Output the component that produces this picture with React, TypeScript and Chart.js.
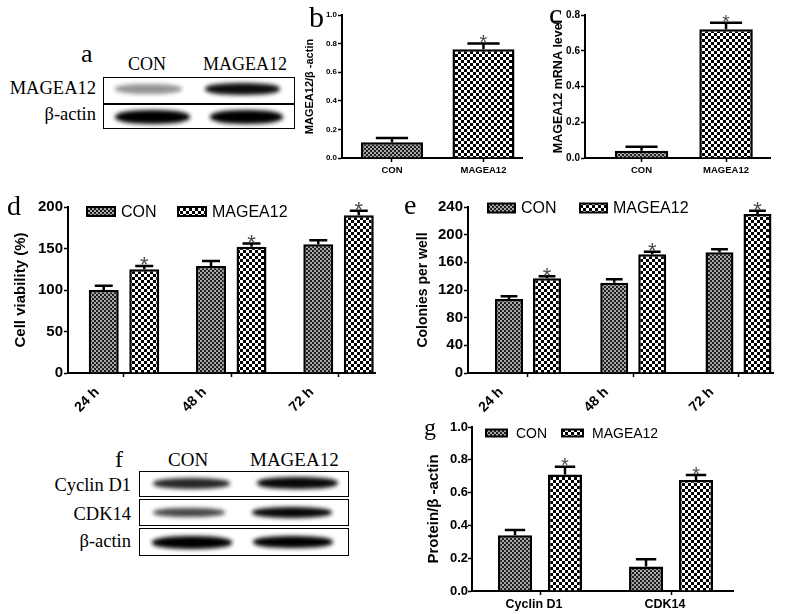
import React, { useEffect, useRef } from 'react';
import { Chart, registerables } from 'chart.js';

Chart.register(...registerables);

const SANS = '"Liberation Sans", Arial, sans-serif';
const SERIF = '"Liberation Serif", "Times New Roman", serif';
Chart.defaults.font.family = SANS;

// ---------- data ----------
const groupNames = ['CON', 'MAGEA12'];

// panel b: MAGEA12/β-actin (western blot quantification)
const bLabels = ['CON', 'MAGEA12'];
const bValues = [0.11, 0.76];
const bErrTop = [0.14, 0.80];
const bStars = [false, true];

// panel c: MAGEA12 mRNA level
const cLabels = ['CON', 'MAGEA12'];
const cValues = [0.04, 0.72];
const cErrTop = [0.063, 0.757];
const cStars = [false, true];

// panel d: cell viability (%)
const dLabels = ['24 h', '48 h', '72 h'];
const dCon = [100, 129, 155];
const dConErr = [105, 135, 160];
const dMag = [125, 152, 190];
const dMagErr = [129, 156, 195.5];
const dStars = [true, true, true];

// panel e: colonies per well
const eLabels = ['24 h', '48 h', '72 h'];
const eCon = [107, 130.6, 174.5];
const eConErr = [111, 135.4, 178.8];
const eMag = [137, 171.6, 230];
const eMagErr = [140, 175.4, 234.7];
const eStars = [true, true, true];

// panel g: protein/β-actin
const gLabels = ['Cyclin D1', 'CDK14'];
const gCon = [0.34, 0.15];
const gConErr = [0.372, 0.193];
const gMag = [0.71, 0.677];
const gMagErr = [0.758, 0.707];
const gStars = [true, true];

// blots: band intensity [CON, MAGEA12]
const blotARows = ['MAGEA12', 'β-actin'];
const blotAIntensity = [[0.42, 0.95], [1, 1]];
const blotFRows = ['Cyclin D1', 'CDK14', 'β-actin'];
const blotFIntensity = [[0.85, 0.97], [0.72, 0.97], [1, 1]];

// ---------- helpers ----------
function makePatterns(ctx: CanvasRenderingContext2D) {
  const a = document.createElement('canvas');
  a.width = 4; a.height = 4;
  const ac = a.getContext('2d')!;
  ac.fillStyle = '#a8a8a8'; ac.fillRect(0, 0, 4, 4);
  ac.fillStyle = '#1e1e1e'; ac.fillRect(0, 0, 2, 2); ac.fillRect(2, 2, 2, 2);
  const b = document.createElement('canvas');
  b.width = 6; b.height = 6;
  const bc = b.getContext('2d')!;
  bc.fillStyle = '#000'; bc.fillRect(0, 0, 6, 6);
  bc.fillStyle = '#fff'; bc.fillRect(0, 0, 3, 3); bc.fillRect(3, 3, 3, 3);
  return [ctx.createPattern(a, 'repeat')!, ctx.createPattern(b, 'repeat')!];
}

type DS = { label: string; values: number[]; err: number[]; stars: boolean[]; pat: number | number[] };
type Spec = {
  box: [number, number, number, number];
  area: [number, number, number, number];
  xRange: [number, number];
  labels: string[];
  datasets: DS[];
  yMax: number; yStep: number; yDec: number;
  tickSize: number; xSize: number; xRot: number; xOffset: number; xPad: number; yPad: number;
  title: string; titleSize: number; titleCenter: number;
  cat: number; barPct: number; cap: number; starSize: number;
  legend?: { pos: [number, number][]; w: number; h: number; gap: number; size: number };
};

function BarPanel({ spec }: { spec: Spec }) {
  const ref = useRef<HTMLCanvasElement>(null);
  useEffect(() => {
    const canvas = ref.current!;
    const ctx = canvas.getContext('2d')!;
    const pats = makePatterns(ctx);
    const [L, T, W, H] = spec.box;
    const [aL, aR, aT, aB] = spec.area;

    const errorBars = {
      id: 'errorBars',
      afterDatasetsDraw(chart: any) {
        const c = chart.ctx;
        const ys = chart.scales.y;
        chart.data.datasets.forEach((ds: any, di: number) => {
          const meta = chart.getDatasetMeta(di);
          meta.data.forEach((bar: any, i: number) => {
            const top = ds.errTop[i];
            const x = bar.x;
            const ye = ys.getPixelForValue(top);
            const capW = bar.width * spec.cap;
            c.save();
            c.strokeStyle = '#000';
            c.lineWidth = 2.5;
            c.beginPath();
            c.moveTo(x, bar.y);
            c.lineTo(x, ye);
            c.moveTo(x - capW / 2, ye);
            c.lineTo(x + capW / 2, ye);
            c.stroke();
            if (ds.stars[i]) {
              c.fillStyle = '#4a4a4a';
              c.font = `${spec.starSize}px ${SANS}`;
              c.textAlign = 'center';
              c.textBaseline = 'alphabetic';
              c.fillText('*', x, ye - 3 + spec.starSize * 0.43);
            }
            c.restore();
          });
        });
      },
    };

    const insideLegend = {
      id: 'insideLegend',
      afterDraw(chart: any) {
        const lg = spec.legend;
        if (!lg) return;
        const c = chart.ctx;
        chart.data.datasets.forEach((ds: any, i: number) => {
          const [x, y] = lg.pos[i];
          c.save();
          c.fillStyle = ds.backgroundColor;
          c.fillRect(x, y - lg.h / 2, lg.w, lg.h);
          c.strokeStyle = '#000';
          c.lineWidth = 2;
          c.strokeRect(x, y - lg.h / 2, lg.w, lg.h);
          c.fillStyle = '#000';
          c.font = `${lg.size}px ${SANS}`;
          c.textAlign = 'left';
          c.textBaseline = 'middle';
          c.fillText(ds.label, x + lg.w + lg.gap, y + 1);
          c.restore();
        });
      },
    };

    const chart = new Chart(canvas, {
      type: 'bar',
      data: {
        datasets: spec.datasets.map((d) => ({
          label: d.label,
          data: d.values.map((v, i) => ({ x: i + 1, y: v })),
          backgroundColor: Array.isArray(d.pat) ? d.pat.map((p) => pats[p]) : pats[d.pat],
          borderColor: '#000',
          borderWidth: 2.5,
          categoryPercentage: spec.cat,
          barPercentage: spec.barPct,
          errTop: d.err,
          stars: d.stars,
        })) as any,
      },
      options: {
        responsive: false,
        animation: false,
        events: [],
        layout: { padding: { top: aT - T, right: L + W - aR, left: 0, bottom: 0 } },
        plugins: { legend: { display: false }, tooltip: { enabled: false } },
        scales: {
          x: {
            type: 'linear',
            min: spec.xRange[0],
            max: spec.xRange[1],
            offset: false,
            afterBuildTicks: (s: any) => {
              s.ticks = spec.labels.map((_, i) => ({ value: i + 1 }));
            },
            afterFit: (s: any) => {
              s.height = T + H - aB;
            },
            grid: { display: true, offset: false, drawOnChartArea: false, drawTicks: true, tickLength: 4, tickWidth: 1.5, tickColor: '#000' },
            border: { display: true, color: '#000', width: 2 },
            ticks: {
              autoSkip: false,
              callback: (_v: any, i: number) => spec.labels[i],
              font: { family: SANS, size: spec.xSize, weight: 'bold' },
              color: '#000',
              minRotation: spec.xRot,
              maxRotation: spec.xRot,
              labelOffset: spec.xOffset,
              padding: spec.xPad,
            },
          },
          y: {
            min: 0,
            max: spec.yMax,
            afterFit: (s: any) => {
              s.width = aL - L;
            },
            grid: { display: true, drawOnChartArea: false, drawTicks: true, tickLength: 4, tickWidth: 1.5, tickColor: '#000' },
            border: { display: true, color: '#000', width: 2 },
            ticks: {
              stepSize: spec.yStep,
              callback: (v: any) => Number(v).toFixed(spec.yDec),
              font: { family: SANS, size: spec.tickSize, weight: 'bold' },
              color: '#000',
              padding: spec.yPad,
            },
            title: {
              display: true,
              text: spec.title,
              color: '#000',
              font: { family: SANS, size: spec.titleSize, weight: 'bold' },
              padding: { top: spec.titleCenter - L - spec.titleSize * 0.6, bottom: 0 },
            },
          },
        },
      } as any,
      plugins: [errorBars, insideLegend],
    });
    return () => chart.destroy();
  }, []);
  const [L, T, W, H] = spec.box;
  return (
    <canvas
      ref={ref}
      width={W}
      height={H}
      style={{ position: 'absolute', left: L, top: T, width: W, height: H }}
    />
  );
}

function Txt({ x, y, s, children, font = SERIF, right = false, weight = 'normal' }: any) {
  const style: any = {
    position: 'absolute',
    top: y - 0.84 * s,
    fontFamily: font,
    fontSize: s,
    lineHeight: `${s}px`,
    whiteSpace: 'nowrap',
    fontWeight: weight,
    color: '#000',
  };
  if (right) style.right = 800 - x;
  else style.left = x;
  return <div style={style}>{children}</div>;
}

function Band({ x1, x2, cy, h, a }: any) {
  return (
    <div
      style={{
        position: 'absolute',
        left: x1,
        top: cy - h / 2,
        width: x2 - x1,
        height: h,
        borderRadius: '45%',
        background: `rgba(0,0,0,${a})`,
        filter: 'blur(2.2px)',
      }}
    />
  );
}

function Box({ x, y, w, h }: any) {
  return (
    <div
      style={{
        position: 'absolute',
        left: x,
        top: y,
        width: w,
        height: h,
        border: '1.5px solid #000',
        boxSizing: 'border-box',
      }}
    />
  );
}

const specB: Spec = {
  box: [296, 0, 234, 190],
  area: [342, 522, 15, 158],
  xRange: [0.454, 2.421],
  labels: bLabels,
  datasets: [{ label: 'b', values: bValues, err: bErrTop, stars: bStars, pat: [0, 1] }],
  yMax: 1, yStep: 0.2, yDec: 1,
  tickSize: 8, xSize: 9.5, xRot: 0, xOffset: 0, xPad: 3, yPad: 1,
  title: 'MAGEA12/β -actin', titleSize: 11, titleCenter: 310,
  cat: 0.678, barPct: 1, cap: 0.52, starSize: 20,
};

const specC: Spec = {
  box: [540, 0, 260, 190],
  area: [585, 770, 15, 158],
  xRange: [0.331, 2.52],
  labels: cLabels,
  datasets: [{ label: 'c', values: cValues, err: cErrTop, stars: cStars, pat: [0, 1] }],
  yMax: 0.8, yStep: 0.2, yDec: 1,
  tickSize: 10, xSize: 9.5, xRot: 0, xOffset: 0, xPad: 3, yPad: 1,
  title: 'MAGEA12 mRNA level', titleSize: 12.5, titleCenter: 559,
  cat: 0.633, barPct: 1, cap: 0.6, starSize: 19,
};

const specD: Spec = {
  box: [0, 190, 400, 230],
  area: [68, 375, 207, 373],
  xRange: [0.478, 3.34],
  labels: dLabels,
  datasets: [
    { label: groupNames[0], values: dCon, err: dConErr, stars: [false, false, false], pat: 0 },
    { label: groupNames[1], values: dMag, err: dMagErr, stars: dStars, pat: 1 },
  ],
  yMax: 200, yStep: 50, yDec: 0,
  tickSize: 15, xSize: 14, xRot: 45, xOffset: -27, xPad: 7, yPad: 1,
  title: 'Cell viability (%)', titleSize: 15, titleCenter: 20.5,
  cat: 0.755, barPct: 0.74, cap: 0.6, starSize: 22,
  legend: { pos: [[87, 21.5], [178, 21.5]], w: 28, h: 9, gap: 6, size: 16 },
};

const specE: Spec = {
  box: [400, 190, 400, 230],
  area: [468, 773, 207, 373],
  xRange: [0.43, 3.328],
  labels: eLabels,
  datasets: [
    { label: groupNames[0], values: eCon, err: eConErr, stars: [false, false, false], pat: 0 },
    { label: groupNames[1], values: eMag, err: eMagErr, stars: eStars, pat: 1 },
  ],
  yMax: 240, yStep: 40, yDec: 0,
  tickSize: 15, xSize: 14, xRot: 45, xOffset: -27, xPad: 7, yPad: 1,
  title: 'Colonies per well', titleSize: 14, titleCenter: 423.5,
  cat: 0.722, barPct: 0.737, cap: 0.6, starSize: 22,
  legend: { pos: [[88, 18], [180, 18]], w: 27, h: 9, gap: 6, size: 16 },
};

const specG: Spec = {
  box: [400, 408, 400, 206],
  area: [472, 733, 427, 591],
  xRange: [0.481, 2.473],
  labels: gLabels,
  datasets: [
    { label: groupNames[0], values: gCon, err: gConErr, stars: [false, false], pat: 0 },
    { label: groupNames[1], values: gMag, err: gMagErr, stars: gStars, pat: 1 },
  ],
  yMax: 1, yStep: 0.2, yDec: 1,
  tickSize: 13, xSize: 12.5, xRot: 0, xOffset: -6, xPad: 2, yPad: 0,
  title: 'Protein/β -actin', titleSize: 15, titleCenter: 434,
  cat: 0.763, barPct: 0.68, cap: 0.6, starSize: 20,
  legend: { pos: [[86, 25], [162, 25]], w: 21, h: 7, gap: 9, size: 14 },
};

export default function App() {
  const aRowsGeo = [
    { y: 77, h: 27, bands: [[115, 182, 89, 10], [205, 280, 89, 12]] },
    { y: 104, h: 25, bands: [[115, 190, 117, 14], [210, 283, 117, 14]] },
  ];
  const aLabelBase = [95, 121];
  const fRowsGeo = [
    { y: 471, h: 26, bands: [[153, 230, 483, 11], [257, 338, 483, 12]] },
    { y: 499, h: 27, bands: [[153, 225, 512, 9], [252, 332, 512, 11]] },
    { y: 528, h: 28, bands: [[152, 232, 542, 13], [253, 333, 542, 12]] },
  ];
  const fLabelBase = [492, 521, 548];
  return (
    <div
      style={{
        position: 'absolute',
        left: 0,
        top: 0,
        width: 800,
        height: 614,
        background: '#fff',
        overflow: 'hidden',
      }}
    >
      {/* panel a */}
      <Txt x={81} y={63} s={26}>a</Txt>
      <Txt x={128} y={70} s={18}>{groupNames[0]}</Txt>
      <Txt x={203} y={70} s={18}>{groupNames[1]}</Txt>
      {blotARows.map((r, i) => (
        <React.Fragment key={r}>
          <Txt x={96} y={aLabelBase[i]} s={18.5} right>{r}</Txt>
          <Box x={103} y={aRowsGeo[i].y} w={192} h={aRowsGeo[i].h} />
          {aRowsGeo[i].bands.map((b, j) => (
            <Band key={j} x1={b[0]} x2={b[1]} cy={b[2]} h={b[3]} a={blotAIntensity[i][j]} />
          ))}
        </React.Fragment>
      ))}

      {/* panel f */}
      <Txt x={115} y={467} s={24}>f</Txt>
      <Txt x={168} y={466} s={19}>{groupNames[0]}</Txt>
      <Txt x={250} y={466} s={19}>{groupNames[1]}</Txt>
      {blotFRows.map((r, i) => (
        <React.Fragment key={r}>
          <Txt x={131} y={fLabelBase[i]} s={18.5} right>{r}</Txt>
          <Box x={139} y={fRowsGeo[i].y} w={210} h={fRowsGeo[i].h} />
          {fRowsGeo[i].bands.map((b, j) => (
            <Band key={j} x1={b[0]} x2={b[1]} cy={b[2]} h={b[3]} a={blotFIntensity[i][j]} />
          ))}
        </React.Fragment>
      ))}

      <BarPanel spec={specB} />
      <BarPanel spec={specC} />
      <BarPanel spec={specD} />
      <BarPanel spec={specE} />
      <BarPanel spec={specG} />

      <Txt x={309} y={27} s={30}>b</Txt>
      <Txt x={549} y={24} s={30}>c</Txt>
      <Txt x={7} y={216} s={28}>d</Txt>
      <Txt x={404} y={215} s={28}>e</Txt>
      <Txt x={424} y={435} s={24}>g</Txt>
    </div>
  );
}
